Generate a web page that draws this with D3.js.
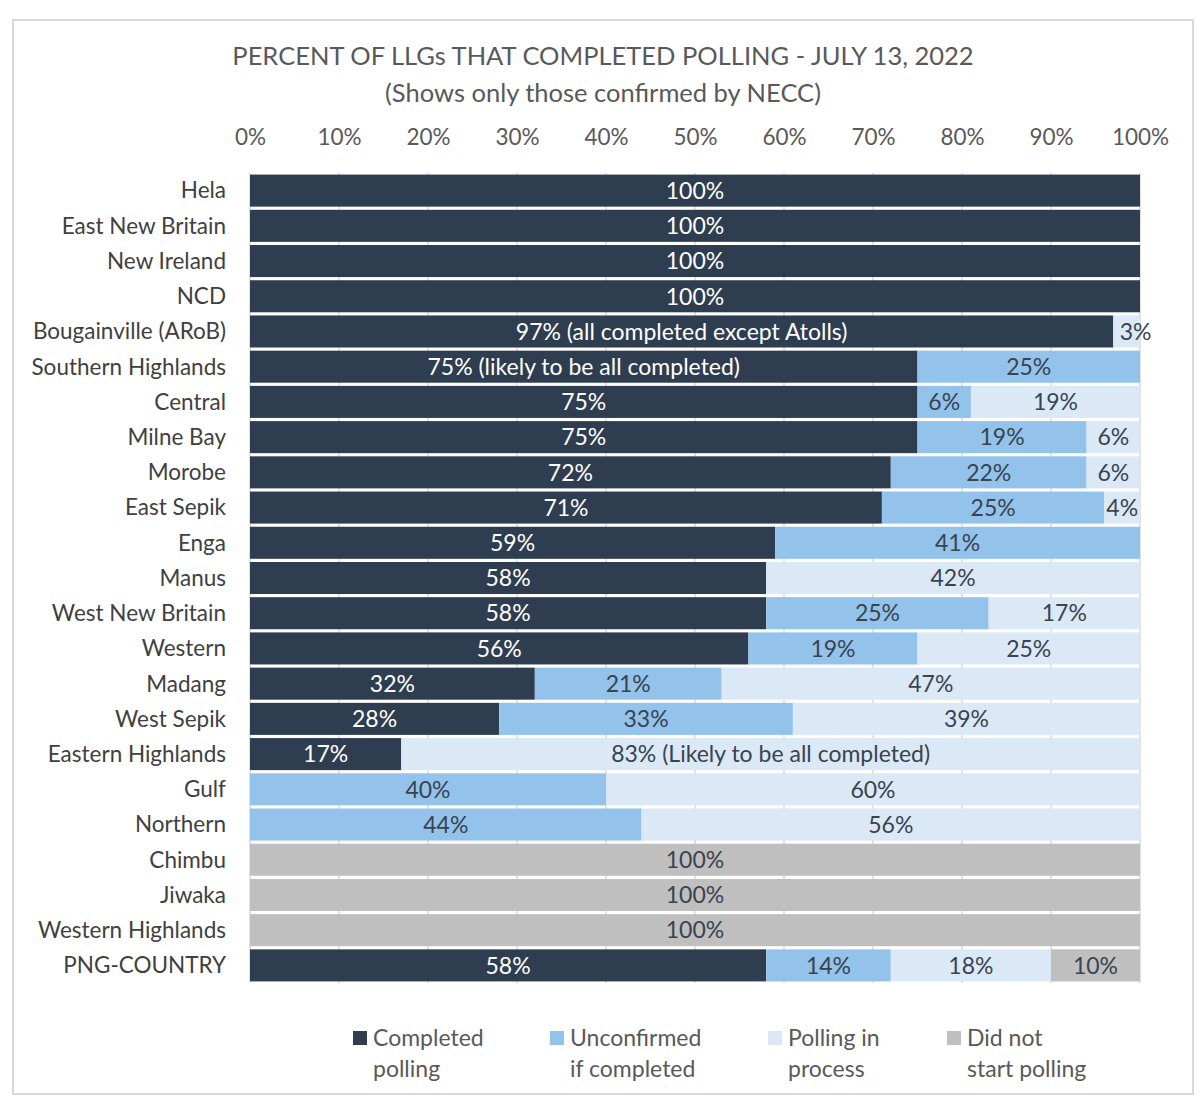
<!DOCTYPE html>
<html>
<head>
<meta charset="utf-8">
<script src="https://cdn.jsdelivr.net/npm/d3@7"></script>
<style>
  body { margin: 0; background: #fff; }
  svg text { font-family: Lato, "Open Sans", sans-serif; }
</style>
</head>
<body>
<svg id="chart" width="1200" height="1109"></svg>
<script>
// categories top to bottom
const categories = ["Hela", "East New Britain", "New Ireland", "NCD", "Bougainville (ARoB)",
    "Southern Highlands", "Central", "Milne Bay", "Morobe", "East Sepik", "Enga", "Manus",
    "West New Britain", "Western", "Madang", "West Sepik", "Eastern Highlands", "Gulf",
    "Northern", "Chimbu", "Jiwaka", "Western Highlands", "PNG-COUNTRY"];

// percent values per series
const completed   = [100, 100, 100, 100, 97, 75, 75, 75, 72, 71, 59, 58, 58, 56, 32, 28, 17, 0, 0, 0, 0, 0, 58];
const unconfirmed = [0, 0, 0, 0, 0, 25, 6, 19, 22, 25, 41, 0, 25, 19, 21, 33, 0, 40, 44, 0, 0, 0, 14];
const inProcess   = [0, 0, 0, 0, 3, 0, 19, 6, 6, 4, 0, 42, 17, 25, 47, 39, 83, 60, 56, 0, 0, 0, 18];
const notStarted  = [0, 0, 0, 0, 0, 0, 0, 0, 0, 0, 0, 0, 0, 0, 0, 0, 0, 0, 0, 100, 100, 100, 10];

const seriesNames = ["Completed polling", "Unconfirmed if completed", "Polling in process", "Did not start polling"];
const legendLines = [["Completed", "polling"], ["Unconfirmed", "if completed"], ["Polling in", "process"], ["Did not", "start polling"]];
const seriesColors = ["#2e3d4f", "#93c2ea", "#dbe9f6", "#bfbfbf"];
const tickValues = [0, 10, 20, 30, 40, 50, 60, 70, 80, 90, 100];

// extra text appended to some segment labels
const labelNotes = [
    { cat: "Bougainville (ARoB)", s: 0, note: " (all completed except Atolls)" },
    { cat: "Southern Highlands", s: 0, note: " (likely to be all completed)" },
    { cat: "Eastern Highlands", s: 2, note: " (Likely to be all completed)" }
];

const svg = d3.select("#chart");

// outer frame
svg.append("rect")
    .attr("x", 13).attr("y", 20)
    .attr("width", 1180).attr("height", 1074)
    .attr("fill", "none")
    .attr("stroke", "#d9d9d9")
    .attr("stroke-width", 2);

// title
const title = svg.append("text")
    .attr("text-anchor", "middle")
    .attr("fill", "#595959")
    .style("font-size", "25.5px");
title.append("tspan").attr("x", 603).attr("y", 65)
    .text("PERCENT OF LLGs THAT COMPLETED POLLING - JULY 13, 2022");
title.append("tspan").attr("x", 603).attr("y", 102)
    .text("(Shows only those confirmed by NECC)");

const x = d3.scaleLinear().domain([0, 100]).range([250, 1140]);
const y = d3.scaleBand().domain(categories).range([173, 983]).paddingInner(0.09).paddingOuter(0.045);

// gridlines
svg.append("g")
    .selectAll("line")
    .data(tickValues)
    .join("line")
    .attr("x1", d => x(d)).attr("x2", d => x(d))
    .attr("y1", 173).attr("y2", 983)
    .attr("stroke", "#d9d9d9")
    .attr("stroke-width", 1.5);

// top axis
const xAxis = svg.append("g")
    .attr("transform", "translate(0,148)")
    .call(d3.axisTop(x).tickValues(tickValues).tickSize(0).tickFormat(d => d + "%"));
xAxis.select(".domain").remove();
xAxis.selectAll("text")
    .attr("fill", "#595959")
    .style("font-size", "22.5px")
    .style("font-family", "Lato, sans-serif");

// category axis
const yAxis = svg.append("g")
    .attr("transform", "translate(226,0)")
    .call(d3.axisLeft(y).tickSize(0).tickPadding(0));
yAxis.select(".domain").remove();
yAxis.selectAll("text")
    .attr("fill", "#404040")
    .attr("dy", "0.35em")
    .style("font-size", "22.5px")
    .style("font-family", "Lato, sans-serif");

// stacked data
const table = categories.map((c, i) => ({
    cat: c, v0: completed[i], v1: unconfirmed[i], v2: inProcess[i], v3: notStarted[i]
}));
const stack = d3.stack().keys(["v0", "v1", "v2", "v3"])(table);

const layers = svg.append("g")
    .selectAll("g")
    .data(stack)
    .join("g")
    .attr("fill", (d, i) => seriesColors[i]);

layers.selectAll("rect")
    .data(d => d.filter(p => p[1] - p[0] > 0))
    .join("rect")
    .attr("x", d => x(d[0]))
    .attr("width", d => x(d[1]) - x(d[0]))
    .attr("y", d => y(d.data.cat))
    .attr("height", y.bandwidth());

// segment labels
stack.forEach((layer, s) => {
    svg.append("g")
        .selectAll("text")
        .data(layer.filter(p => p[1] - p[0] > 0))
        .join("text")
        .attr("x", d => x((d[0] + d[1]) / 2))
        .attr("y", d => y(d.data.cat) + y.bandwidth() / 2)
        .attr("dy", "0.36em")
        // tiny segments: keep label clear of the dark bar on the left
        .attr("dx", d => (d[1] - d[0]) < 4 && d[0] > 0 ? 9 : 0)
        .attr("text-anchor", "middle")
        .attr("fill", s === 0 ? "#ffffff" : "#3a4350")
        .style("font-size", "23px")
        .text(d => {
            const n = labelNotes.find(l => l.cat === d.data.cat && l.s === s);
            return (d[1] - d[0]) + "%" + (n ? n.note : "");
        });
});

// legend
const legendX = [353, 550, 768, 947];
const legend = svg.append("g")
    .selectAll("g")
    .data(seriesNames)
    .join("g")
    .attr("transform", (d, i) => `translate(${legendX[i]},1031)`);
legend.append("rect")
    .attr("width", 14).attr("height", 14)
    .attr("fill", (d, i) => seriesColors[i]);
legend.append("text")
    .attr("fill", "#595959")
    .style("font-size", "23px")
    .selectAll("tspan")
    .data((d, i) => legendLines[i])
    .join("tspan")
    .attr("x", 20)
    .attr("y", (d, i) => 15 + i * 31)
    .text(d => d);
</script>
</body>
</html>
